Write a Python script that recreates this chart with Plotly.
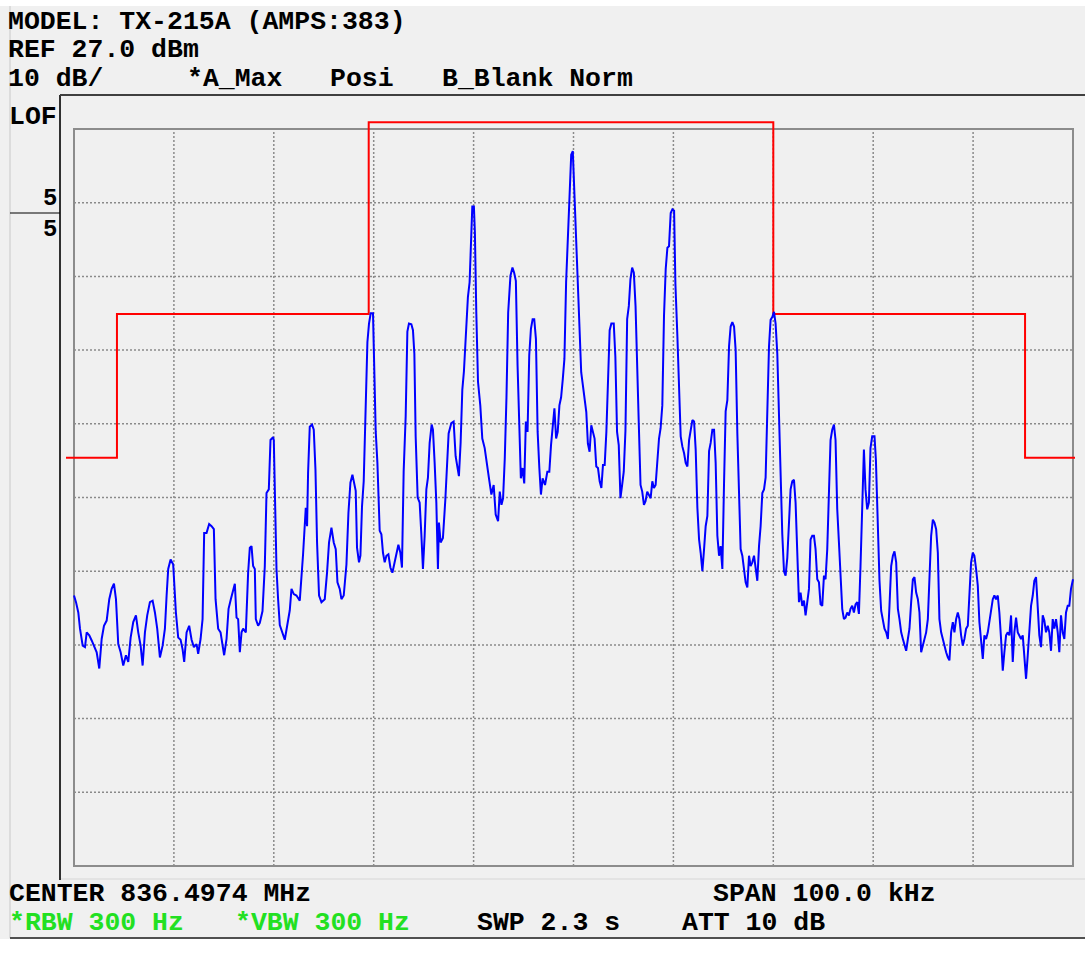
import plotly.graph_objects as go

W, H = 1085, 961

# ---------------- data ----------------
REF_DBM = 27.0
BOTTOM_DBM = -73.0
SPAN_KHZ = [-50.0, 50.0]
GRID_KHZ = [-40, -30, -20, -10, 0, 10, 20, 30, 40]
GRID_DBM = [17, 7, -3, -13, -23, -33, -43, -53, -63]

FREQ_KHZ = [
    -50.0, -49.8, -49.57, -49.4, -49.13, -48.9, -48.73, -48.47, -48.23, -48.0, -47.73, -47.47, -47.23, -47.0,
    -46.73, -46.47, -46.23, -46.0, -45.8, -45.57, -45.33, -45.07, -44.8, -44.57, -44.33, -44.07, -43.8, -43.57,
    -43.33, -43.13, -42.9, -42.67, -42.4, -42.13, -41.9, -41.67, -41.4, -41.13, -40.9, -40.73, -40.57, -40.33,
    -40.07, -39.8, -39.57, -39.33, -39.13, -38.97, -38.73, -38.47, -38.23, -38.0, -37.73, -37.57, -37.33, -37.13,
    -36.97, -36.73, -36.47, -36.23, -36.0, -35.83, -35.57, -35.33, -35.13, -34.97, -34.73, -34.53, -34.3, -34.07,
    -33.9, -33.73, -33.57, -33.4, -33.23, -33.07, -32.8, -32.57, -32.4, -32.23, -32.07, -31.9, -31.8, -31.57,
    -31.4, -31.13, -30.9, -30.73, -30.5, -30.33, -30.07,
    -30.0, -29.9, -29.73, -29.57, -29.4, -28.9, -28.4, -28.23, -28.0, -27.73, -27.4, -27.07, -26.8, -26.67,
    -26.57, -26.4, -26.17, -26.0, -25.83, -25.67, -25.47, -25.23, -24.9, -24.67, -24.47, -24.23, -24.0, -23.8,
    -23.63, -23.4, -23.23, -23.0, -22.73, -22.53, -22.33, -22.13, -22.0, -21.8, -21.67, -21.47, -21.33, -21.17,
    -21.0, -20.83, -20.63, -20.47, -20.3, -20.07, -19.97, -19.8, -19.63, -19.4, -19.23, -19.07, -18.9, -18.73,
    -18.53, -18.33, -18.13, -17.9, -17.73, -17.53, -17.33, -17.17, -17.0, -16.8, -16.63, -16.47, -16.23, -16.07,
    -15.93, -15.8, -15.6, -15.4, -15.23, -15.07, -14.9, -14.73, -14.57, -14.4, -14.2, -14.07, -13.9, -13.73,
    -13.57, -13.47, -13.3, -13.07, -12.83, -12.67, -12.5, -12.23, -12.0, -11.8, -11.63, -11.47, -11.3, -11.13,
    -10.97, -10.73, -10.57,
    -10.4, -10.23, -10.13, -9.97, -9.87, -9.73, -9.56, -9.33, -9.13, -8.89, -8.66, -8.46, -8.22, -7.99, -7.79,
    -7.55, -7.38, -7.21, -7.05, -6.88, -6.71, -6.54, -6.31, -6.11, -5.94, -5.77, -5.6, -5.44, -5.27, -5.1, -4.93,
    -4.77, -4.6, -4.43, -4.26, -4.09, -3.93, -3.76, -3.59, -3.42, -3.26, -3.09, -2.85, -2.62, -2.42, -2.25, -2.08,
    -1.91, -1.74, -1.58, -1.41, -1.24, -1.07, -0.91, -0.74, -0.57, -0.4, -0.23, -0.07, 0.1, 0.27, 0.44, 0.6, 0.77,
    0.94, 1.11, 1.28, 1.44, 1.61, 1.78, 1.95, 2.11, 2.28, 2.45, 2.62, 2.79, 2.95, 3.12, 3.29, 3.46, 3.62, 3.79,
    4.03, 4.19, 4.36, 4.53, 4.7, 4.87, 5.03, 5.2, 5.37, 5.54, 5.7, 5.87, 6.04, 6.21, 6.38, 6.54, 6.71, 6.88, 7.05,
    7.21, 7.38, 7.55, 7.72, 7.89, 8.05, 8.22, 8.39, 8.56, 8.72, 8.89, 9.06, 9.23, 9.4, 9.56, 9.73, 9.9, 10.07, 10.2,
    10.4, 10.57, 10.73, 10.9, 11.07, 11.23, 11.4, 11.57, 11.73, 11.9, 12.07, 12.23, 12.4, 12.57, 12.73, 12.9,
    13.07, 13.23, 13.4, 13.57, 13.73, 13.9, 14.07, 14.23, 14.4, 14.57, 14.73, 14.9, 15.07, 15.23, 15.4, 15.57,
    15.73, 15.9, 16.07, 16.23, 16.4, 16.57, 16.73, 16.9, 17.07, 17.23, 17.4, 17.57, 17.73, 17.9, 18.07, 18.23,
    18.4, 18.57, 18.73, 18.9, 19.07, 19.23, 19.4, 19.57, 19.73, 19.9, 20.07, 20.23, 20.4, 20.57, 20.73, 20.9,
    21.07, 21.23, 21.4, 21.57, 21.73, 21.9, 22.07, 22.23, 22.4, 22.57, 22.73, 22.9, 23.07, 23.23, 23.4, 23.57,
    23.73, 23.9, 24.07, 24.23, 24.4, 24.57, 24.73, 24.9, 25.07, 25.23, 25.4, 25.57, 25.73, 25.9, 26.07, 26.23,
    26.4, 26.57, 26.73, 26.9, 27.07, 27.23, 27.4, 27.57, 27.73, 27.9, 28.07, 28.23, 28.4, 28.57, 28.73, 28.9,
    29.07, 29.23, 29.4, 29.57, 29.73, 29.9,
    30.13, 30.27, 30.47, 30.63, 30.8, 30.97, 31.13, 31.3, 31.47, 31.63, 31.8, 31.97, 32.13, 32.3, 32.47, 32.63,
    32.8, 32.97, 33.13, 33.3, 33.47, 33.63, 33.8, 33.97, 34.13, 34.3, 34.47, 34.63, 34.8, 34.97, 35.13, 35.3,
    35.47, 35.63, 35.8, 35.97, 36.13, 36.3, 36.47, 36.63, 36.8, 36.97, 37.13, 37.3, 37.47, 37.63, 37.8, 37.97,
    38.13, 38.3, 38.47, 38.63, 38.8, 38.97, 39.13, 39.3, 39.47, 39.63, 39.8, 39.97, 40.13, 40.3, 40.47, 40.63,
    40.8, 40.97, 41.13, 41.3, 41.47, 41.63, 41.8, 41.97, 42.13, 42.3, 42.47, 42.63, 42.8, 42.97, 43.13, 43.3,
    43.47, 43.63, 43.8, 43.97, 44.13, 44.3, 44.47, 44.63, 44.8, 44.97, 45.13, 45.3, 45.47, 45.63, 45.8, 45.97,
    46.13, 46.3, 46.47, 46.63, 46.8, 46.97, 47.13, 47.3, 47.47, 47.63, 47.8, 47.97, 48.13, 48.3, 48.47, 48.63,
    48.8, 48.97, 49.13, 49.3, 49.47, 49.63, 49.8, 50.0,
]

LEVEL_DBM = [
    -36.3, -37.2, -38.6, -40.8, -43.1, -43.3, -41.3, -41.7, -42.4, -43.1, -44.0, -46.2, -42.2, -40.4,
    -39.7, -36.8, -35.4, -34.7, -36.8, -42.9, -44.0, -45.8, -44.4, -45.3, -42.0, -39.9, -39.0, -41.3,
    -43.1, -45.8, -41.3, -39.0, -37.2, -37.0, -38.6, -40.8, -44.7, -43.1, -40.8, -36.3, -32.7, -31.4,
    -32.1, -38.6, -42.0, -42.3, -43.6, -45.3, -41.3, -40.4, -42.3, -43.3, -42.9, -44.2, -42.2, -39.5,
    -27.8, -27.8, -26.6, -26.9, -27.3, -36.8, -40.8, -41.3, -42.9, -44.4, -42.2, -38.1, -36.8, -35.4,
    -34.7, -39.3, -39.5, -44.0, -41.3, -40.8, -41.3, -33.2, -29.8, -29.6, -32.3, -32.7, -39.5, -40.4,
    -40.0, -38.4, -32.3, -22.4, -21.9, -15.2, -14.8,
    -15.2, -21.0, -32.7, -36.8, -40.3, -42.3, -38.3, -35.4, -36.1, -36.3, -37.0, -30.7, -24.4, -26.9,
    -19.7, -13.4, -13.1, -13.8, -19.2, -29.1, -36.3, -37.2, -36.8, -33.2, -29.1, -27.1, -29.1, -30.0,
    -34.5, -35.4, -36.8, -36.3, -32.1, -25.1, -21.0, -19.9, -20.8, -22.1, -29.8, -31.8, -30.9, -24.2,
    -20.8, -10.7, -1.9, 0.6, 2.0, 2.0, -3.0, -14.0, -18.3, -27.5, -28.0, -30.5, -31.8, -30.9,
    -30.7, -32.5, -33.2, -31.6, -30.7, -29.4, -30.5, -32.5, -19.4, -12.0, -0.5, 0.6, 0.5, -0.3,
    -3.5, -14.7, -23.0, -23.7, -28.0, -32.7, -28.2, -21.9, -20.3, -15.6, -13.1, -13.8, -18.3, -23.7,
    -32.7, -26.4, -29.1, -28.5, -23.3, -19.2, -14.3, -12.9, -12.7, -17.4, -19.2, -20.1, -15.6, -8.4,
    -5.9, -0.7, 4.2,
    6.2, 14.3, 16.5, 16.5, 12.9, 2.1, -7.3, -10.5, -15.0, -16.3, -18.8, -20.4, -22.6, -21.3, -25.3,
    -26.2, -22.2, -24.0, -23.1, -17.7, -9.4, 2.1, 7.1, 8.2, 7.5, 6.4, -5.1, -14.1, -20.4, -19.0, -21.1,
    -12.7, -14.1, -3.7, -0.1, 1.2, 1.2, -1.5, -14.1, -19.0, -22.6, -20.4, -21.3, -19.5, -19.5, -15.9, -12.9,
    -10.9, -15.0, -14.1, -10.5, -9.4, -6.9, -4.2, 6.2, 12.0, 19.7, 23.5, 24.0, 17.5, 12.0, 5.5, -1.5, -6.0,
    -7.8, -9.6, -11.4, -15.7, -16.8, -13.2, -14.1, -15.0, -18.8, -19.0, -20.8, -21.7, -18.6, -18.6, -14.1, -5.5, -0.3, 0.6,
    0.6, -3.9, -14.1, -15.9, -23.1, -21.3, -19.5, -13.9, 1.2, 3.0, 6.6, 8.2, 7.5, 3.0, -7.8, -13.2, -21.3, -22.2, -24.0,
    -23.5, -22.2, -22.6, -23.1, -20.8, -21.7, -21.3, -17.7, -15.0, -13.6, -10.5, 1.7, 8.0, 10.9, 11.1, 15.6, 16.1, 15.9, 6.0,
    -1.2, -9.3, -14.7, -16.1, -17.0, -18.3, -18.8, -15.2, -13.8, -12.5, -12.7, -16.5, -24.4, -28.7, -30.5, -33.0,
    -30.0, -26.9, -25.5, -16.7, -15.6, -13.8, -13.8, -18.3, -28.2, -30.9, -29.6, -32.7, -21.0, -11.3, -9.8, -2.5,
    0.2, 0.8, 0.2, -3.0, -14.3, -23.9, -30.0, -30.9, -32.7, -34.5, -35.2, -30.9, -32.3, -31.8, -30.9, -32.3,
    -34.3, -29.6, -26.9, -22.4, -21.9, -20.3, -12.9, -2.5, 1.1, 1.5, 2.2, 0.6, -3.5, -12.9, -20.1, -28.0,
    -33.0, -33.6, -31.2, -26.4, -21.9, -20.8, -20.6, -23.7, -31.4, -37.2, -35.9, -37.7, -37.0, -39.0, -37.2, -35.4,
    -28.7, -28.2, -28.2, -30.0, -34.1, -34.5, -37.5, -37.7, -33.6, -34.1, -30.0, -20.6, -15.2, -13.8, -13.1, -15.2,
    -24.6, -29.1, -34.1, -38.1, -39.5, -39.3, -38.6, -39.0, -38.1, -37.7, -38.6, -37.5, -37.2, -38.8, -32.3, -24.2,
    -16.5, -21.9, -24.6, -23.7, -16.3, -14.7,
    -14.7, -17.9, -27.8, -34.3, -38.4, -39.5, -40.8, -41.3, -42.2, -37.7, -32.3, -30.9, -30.3, -31.8, -38.1, -39.5,
    -41.3, -42.2, -43.1, -43.8, -42.2, -40.8, -37.2, -34.1, -33.8, -35.9, -36.8, -38.6, -44.0, -43.1, -42.2, -41.3,
    -39.5, -33.6, -28.2, -26.0, -26.4, -27.3, -30.5, -39.5, -41.3, -42.2, -43.3, -44.0, -44.7, -45.1, -41.3, -39.9,
    -41.3, -39.5, -38.6, -39.5, -41.7, -43.1, -42.2, -40.8, -40.4, -35.4, -31.8, -30.5, -30.9, -32.7, -35.0, -39.9,
    -43.1, -44.9, -41.7, -42.2, -41.3, -39.7, -38.6, -36.8, -36.3, -36.8, -36.3, -38.6, -42.2, -46.5, -44.0, -41.7,
    -41.3, -41.7, -39.0, -45.3, -41.3, -39.3, -41.3, -41.7, -42.2, -41.7, -45.3, -47.6, -44.4, -41.7, -37.7, -36.3,
    -34.3, -33.8, -38.6, -41.7, -43.3, -39.0, -39.7, -41.3, -40.4, -41.3, -43.8, -39.5, -40.8, -39.5, -41.3, -44.0,
    -39.0, -41.3, -42.2, -38.6, -37.7, -37.7, -35.4, -34.1,
]

MASK_KHZ = [-50.8, -45.7, -45.7, -20.5, -20.5, 20.0, 20.0, 45.2, 45.2, 50.2]
MASK_DBM = [-17.6, -17.6, 1.9, 1.9, 27.9, 27.9, 1.9, 1.9, -17.6, -17.6]

# ---------------- layout geometry (pixels) ----------------
PL, PR, PT, PB = 74, 1073, 129, 866          # plot frame in page pixels
kpp = (SPAN_KHZ[1] - SPAN_KHZ[0]) / (PR - PL)  # kHz per pixel
dpp = (REF_DBM - BOTTOM_DBM) / (PB - PT)       # dB per pixel
XR = [SPAN_KHZ[0] - PL * kpp, SPAN_KHZ[1] + (W - PR) * kpp]
YR = [BOTTOM_DBM - (H - PB) * dpp, REF_DBM + PT * dpp]


def px(x):
    return x / W


def py(y):
    return 1 - y / H


FONT = "Liberation Mono"
FS = 26.5

fig = go.Figure()

fig.add_trace(go.Scatter(x=MASK_KHZ, y=MASK_DBM, mode="lines",
                         line=dict(color="#ff0000", width=2), hoverinfo="skip"))
fig.add_trace(go.Scatter(x=FREQ_KHZ, y=LEVEL_DBM, mode="lines",
                         line=dict(color="#0000ff", width=2), hoverinfo="skip"))

shapes = []
# page decorations (paper coords)
shapes.append(dict(type="rect", xref="paper", yref="paper", x0=0, x1=1, y0=py(961), y1=py(939),
                   fillcolor="#ffffff", line_width=0, layer="below"))
shapes.append(dict(type="rect", xref="paper", yref="paper", x0=0, x1=1, y0=py(6), y1=1,
                   fillcolor="#ffffff", line_width=0, layer="below"))
shapes.append(dict(type="line", xref="paper", yref="paper", x0=px(10), x1=px(10), y0=py(6), y1=py(938),
                   line=dict(color="#c8c8c8", width=1), layer="below"))
shapes.append(dict(type="line", xref="paper", yref="paper", x0=px(10), x1=1, y0=py(938), y1=py(938),
                   line=dict(color="#505050", width=2), layer="below"))
shapes.append(dict(type="line", xref="paper", yref="paper", x0=px(60), x1=1, y0=py(879), y1=py(879),
                   line=dict(color="#d6d6d6", width=1), layer="below"))
shapes.append(dict(type="line", xref="paper", yref="paper", x0=px(60), x1=px(60), y0=py(95), y1=py(880),
                   line=dict(color="#303030", width=2), layer="below"))
shapes.append(dict(type="line", xref="paper", yref="paper", x0=px(60), x1=1, y0=py(95), y1=py(95),
                   line=dict(color="#404040", width=2), layer="below"))
shapes.append(dict(type="line", xref="paper", yref="paper", x0=px(10), x1=px(60), y0=py(213), y1=py(213),
                   line=dict(color="#000000", width=1), layer="below"))

# grid (data coords)
for k in GRID_KHZ:
    shapes.append(dict(type="line", xref="x", yref="y", x0=k, x1=k, y0=BOTTOM_DBM, y1=REF_DBM,
                       line=dict(color="#8a8a8a", width=1.5, dash="2px,2px"), layer="below"))
for d in GRID_DBM:
    shapes.append(dict(type="line", xref="x", yref="y", x0=SPAN_KHZ[0], x1=SPAN_KHZ[1], y0=d, y1=d,
                       line=dict(color="#8a8a8a", width=1.5, dash="2px,2px"), layer="below"))
# plot frame
shapes.append(dict(type="rect", xref="x", yref="y", x0=SPAN_KHZ[0], x1=SPAN_KHZ[1], y0=BOTTOM_DBM, y1=REF_DBM,
                   line=dict(color="#8c8c8c", width=2), fillcolor="rgba(0,0,0,0)", layer="below"))

annotations = []


def label(text, x, y, color="#000000", anchor="left", size=FS):
    annotations.append(dict(text=text, xref="paper", yref="paper", x=px(x), y=py(y),
                            xanchor=anchor, yanchor="middle", showarrow=False,
                            font=dict(family=FONT, size=size, color=color, weight="bold")))


label("MODEL: TX-215A (AMPS:383)", 6, 22)
label("REF 27.0 dBm", 6, 50)
label("10 dB/", 6, 79)
label("*A_Max", 185, 79)
label("Posi", 328, 79)
label("B_Blank Norm", 440, 79)
label("LOF", 7, 117)
label("5<br>5", 59, 214, anchor="right", size=24)
label("CENTER 836.4974 MHz", 7, 894)
label("SPAN 100.0 kHz", 711, 894)
label("*RBW 300 Hz", 7, 923, color="#22e022")
label("*VBW 300 Hz", 233, 923, color="#22e022")
label("SWP 2.3 s", 475, 923)
label("ATT 10 dB", 680, 923)

fig.update_layout(
    width=W, height=H,
    margin=dict(l=0, r=0, t=0, b=0, pad=0),
    paper_bgcolor="#f0f0f0", plot_bgcolor="rgba(0,0,0,0)",
    showlegend=False,
    xaxis=dict(range=XR, visible=False, fixedrange=True),
    yaxis=dict(range=YR, visible=False, fixedrange=True),
    shapes=shapes, annotations=annotations,
)

fig.write_html("out.html", config={"displayModeBar": False},
               post_script="document.body.style.margin='0px';document.body.style.overflow='hidden';")
